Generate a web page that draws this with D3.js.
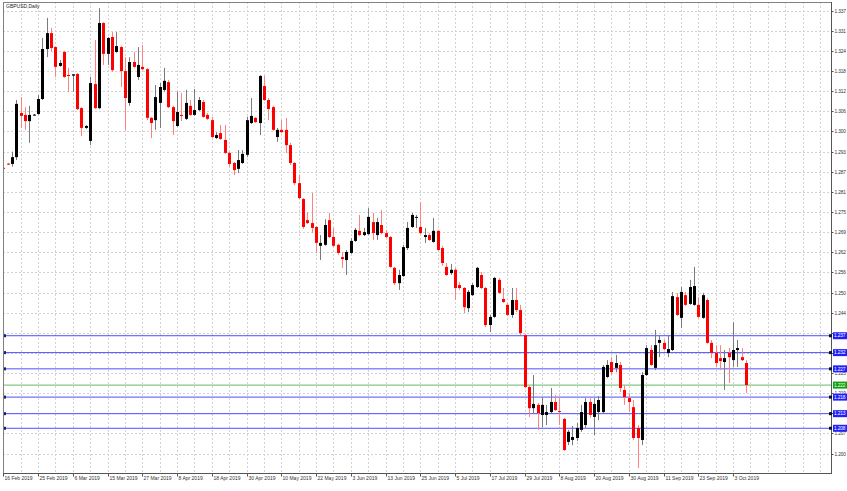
<!DOCTYPE html>
<html>
<head>
<meta charset="utf-8">
<script src="https://cdn.jsdelivr.net/npm/d3@7/dist/d3.min.js"></script>
<style>
  body { margin: 0; background: #fff; }
  svg { display: block; }
</style>
</head>
<body>
<script>
const chartTitle = 'GBPUSD,Daily'

// daily bars, oldest first (prices)
const opens = [
  1.2889, 1.2902, 1.2901, 1.2922, 1.3058, 1.3052, 1.3033, 1.3050, 1.3055, 1.3101,
  1.3255, 1.3304, 1.3261, 1.3203, 1.3246, 1.3175, 1.3173, 1.3178, 1.3073, 1.3012,
  1.2972, 1.3147, 1.3073, 1.3335, 1.3240, 1.3292, 1.3246, 1.3261, 1.3187, 1.3089,
  1.3215, 1.3169, 1.3200, 1.3193, 1.3043, 1.3036, 1.3089, 1.3129, 1.3153, 1.3076,
  1.3018, 1.3052, 1.3040, 1.3080, 1.3052, 1.3067, 1.3092, 1.3052, 1.3036, 1.2981,
  1.2996, 1.2975, 1.2935, 1.2904, 1.2886, 1.2904, 1.2929, 1.3027, 1.3043, 1.3027,
  1.3141, 1.3098, 1.3076, 1.2984, 1.3006, 1.3006, 1.2959, 1.2904, 1.2842, 1.2793,
  1.2728, 1.2719, 1.2707, 1.2649, 1.2652, 1.2728, 1.2676, 1.2652, 1.2614, 1.2605,
  1.2627, 1.2664, 1.2695, 1.2682, 1.2685, 1.2722, 1.2682, 1.2713, 1.2688, 1.2676,
  1.2581, 1.2534, 1.2556, 1.2642, 1.2707, 1.2735, 1.2707, 1.2676, 1.2682, 1.2661,
  1.2695, 1.2642, 1.2584, 1.2565, 1.2575, 1.2528, 1.2519, 1.2457, 1.2497, 1.2522,
  1.2559, 1.2519, 1.2405, 1.2430, 1.2544, 1.2485, 1.2467, 1.2436, 1.2482, 1.2451,
  1.2374, 1.2214, 1.2149, 1.2159, 1.2128, 1.2128, 1.2137, 1.2168, 1.2140, 1.2116,
  1.2045, 1.2051, 1.2057, 1.2082, 1.2097, 1.2168, 1.2122, 1.2137, 1.2137, 1.2245,
  1.2291, 1.2273, 1.2282, 1.2205, 1.2180, 1.2152, 1.2088, 1.2051, 1.2251, 1.2328,
  1.2273, 1.2350, 1.2350, 1.2319, 1.2328, 1.2491, 1.2427, 1.2497, 1.2470, 1.2467,
  1.2467, 1.2427, 1.2482, 1.2350, 1.2319, 1.2303, 1.2291, 1.2319, 1.2297, 1.2328,
  1.2306, 1.2288
]
const highs = [
  1.2892, 1.2904, 1.2939, 1.3098, 1.3107, 1.3076, 1.3080, 1.3055, 1.3113, 1.3289,
  1.3351, 1.3320, 1.3264, 1.3221, 1.3249, 1.3197, 1.3178, 1.3181, 1.3076, 1.3021,
  1.3169, 1.3283, 1.3381, 1.3338, 1.3292, 1.3307, 1.3307, 1.3264, 1.3230, 1.3230,
  1.3246, 1.3261, 1.3267, 1.3197, 1.3046, 1.3144, 1.3150, 1.3197, 1.3160, 1.3080,
  1.3123, 1.3120, 1.3129, 1.3098, 1.3132, 1.3107, 1.3098, 1.3058, 1.3046, 1.2999,
  1.3021, 1.3021, 1.2938, 1.2907, 1.2944, 1.2944, 1.3046, 1.3104, 1.3046, 1.3175,
  1.3172, 1.3104, 1.3080, 1.3012, 1.3036, 1.3043, 1.2966, 1.2907, 1.2867, 1.2796,
  1.2753, 1.2812, 1.2710, 1.2682, 1.2731, 1.2750, 1.2704, 1.2655, 1.2630, 1.2636,
  1.2673, 1.2704, 1.2744, 1.2704, 1.2765, 1.2750, 1.2735, 1.2759, 1.2698, 1.2679,
  1.2584, 1.2575, 1.2652, 1.2722, 1.2750, 1.2744, 1.2784, 1.2704, 1.2688, 1.2735,
  1.2698, 1.2649, 1.2596, 1.2593, 1.2581, 1.2537, 1.2522, 1.2513, 1.2534, 1.2584,
  1.2568, 1.2522, 1.2436, 1.2553, 1.2550, 1.2519, 1.2473, 1.2519, 1.2519, 1.2467,
  1.2377, 1.2217, 1.2251, 1.2165, 1.2183, 1.2159, 1.2211, 1.2189, 1.2183, 1.2119,
  1.2082, 1.2094, 1.2103, 1.2159, 1.2180, 1.2180, 1.2180, 1.2186, 1.2282, 1.2297,
  1.2306, 1.2313, 1.2291, 1.2220, 1.2196, 1.2174, 1.2097, 1.2260, 1.2343, 1.2343,
  1.2390, 1.2374, 1.2359, 1.2374, 1.2507, 1.2504, 1.2522, 1.2507, 1.2544, 1.2584,
  1.2491, 1.2504, 1.2488, 1.2359, 1.2343, 1.2343, 1.2328, 1.2334, 1.2414, 1.2359,
  1.2334, 1.2297
]
const lows = [
  1.2884, 1.2898, 1.2893, 1.2913, 1.3012, 1.3006, 1.2966, 1.3049, 1.3052, 1.3098,
  1.3230, 1.3246, 1.3169, 1.3200, 1.3166, 1.3123, 1.3123, 1.3067, 1.2987, 1.3009,
  1.2959, 1.3070, 1.3070, 1.3206, 1.3206, 1.3184, 1.3243, 1.3138, 1.3006, 1.3080,
  1.3197, 1.3160, 1.3190, 1.3036, 1.2981, 1.3006, 1.3012, 1.3123, 1.3073, 1.2990,
  1.3015, 1.3033, 1.3036, 1.3049, 1.3049, 1.3064, 1.3043, 1.3036, 1.2981, 1.2978,
  1.2975, 1.2932, 1.2892, 1.2867, 1.2873, 1.2901, 1.2922, 1.3024, 1.3027, 1.2990,
  1.3095, 1.3036, 1.3003, 1.2969, 1.2996, 1.2935, 1.2898, 1.2836, 1.2793, 1.2701,
  1.2716, 1.2688, 1.2627, 1.2605, 1.2649, 1.2673, 1.2645, 1.2621, 1.2581, 1.2559,
  1.2624, 1.2661, 1.2679, 1.2679, 1.2682, 1.2667, 1.2667, 1.2685, 1.2673, 1.2581,
  1.2528, 1.2513, 1.2553, 1.2636, 1.2704, 1.2704, 1.2685, 1.2658, 1.2664, 1.2658,
  1.2633, 1.2587, 1.2556, 1.2559, 1.2482, 1.2513, 1.2442, 1.2445, 1.2494, 1.2519,
  1.2516, 1.2399, 1.2383, 1.2427, 1.2501, 1.2473, 1.2433, 1.2427, 1.2445, 1.2374,
  1.2211, 1.2122, 1.2134, 1.2082, 1.2091, 1.2097, 1.2134, 1.2140, 1.2097, 1.2017,
  1.2035, 1.2035, 1.2048, 1.2076, 1.2088, 1.2119, 1.2066, 1.2112, 1.2134, 1.2242,
  1.2251, 1.2260, 1.2199, 1.2159, 1.2137, 1.2051, 1.1965, 1.2035, 1.2248, 1.2279,
  1.2266, 1.2306, 1.2328, 1.2306, 1.2325, 1.2433, 1.2396, 1.2464, 1.2467, 1.2464,
  1.2427, 1.2424, 1.2347, 1.2303, 1.2276, 1.2266, 1.2205, 1.2226, 1.2276, 1.2276,
  1.2294, 1.2196
]
const closes = [
  1.2886, 1.2899, 1.2922, 1.3086, 1.3049, 1.3033, 1.3052, 1.3053, 1.3101, 1.3255,
  1.3304, 1.3258, 1.3200, 1.3212, 1.3169, 1.3172, 1.3177, 1.3070, 1.3012, 1.3018,
  1.3150, 1.3073, 1.3335, 1.3240, 1.3289, 1.3190, 1.3264, 1.3187, 1.3104, 1.3215,
  1.3200, 1.3206, 1.3193, 1.3043, 1.3027, 1.3107, 1.3138, 1.3157, 1.3076, 1.3033,
  1.3061, 1.3049, 1.3089, 1.3052, 1.3067, 1.3098, 1.3046, 1.3040, 1.2984, 1.2990,
  1.2978, 1.2935, 1.2901, 1.2882, 1.2913, 1.2932, 1.3036, 1.3049, 1.3030, 1.3172,
  1.3098, 1.3070, 1.3006, 1.3006, 1.2999, 1.2959, 1.2904, 1.2842, 1.2796, 1.2707,
  1.2719, 1.2704, 1.2658, 1.2658, 1.2713, 1.2676, 1.2649, 1.2627, 1.2608, 1.2630,
  1.2664, 1.2698, 1.2682, 1.2691, 1.2738, 1.2688, 1.2722, 1.2688, 1.2676, 1.2584,
  1.2534, 1.2559, 1.2645, 1.2704, 1.2744, 1.2738, 1.2688, 1.2682, 1.2667, 1.2695,
  1.2636, 1.2596, 1.2559, 1.2575, 1.2519, 1.2519, 1.2460, 1.2507, 1.2528, 1.2581,
  1.2519, 1.2405, 1.2430, 1.2550, 1.2504, 1.2476, 1.2436, 1.2482, 1.2451, 1.2380,
  1.2214, 1.2149, 1.2162, 1.2134, 1.2159, 1.2137, 1.2168, 1.2143, 1.2137, 1.2020,
  1.2076, 1.2060, 1.2088, 1.2137, 1.2168, 1.2128, 1.2162, 1.2174, 1.2276, 1.2282,
  1.2260, 1.2288, 1.2211, 1.2183, 1.2168, 1.2057, 1.2057, 1.2251, 1.2334, 1.2282,
  1.2343, 1.2359, 1.2331, 1.2331, 1.2494, 1.2436, 1.2507, 1.2467, 1.2522, 1.2525,
  1.2430, 1.2497, 1.2350, 1.2319, 1.2288, 1.2294, 1.2303, 1.2306, 1.2328, 1.2334,
  1.2297, 1.2220
]

// one date label every 8 bars, starting on the first bar
const dateLabels = [
  '16 Feb 2019', '25 Feb 2019', '6 Mar 2019', '15 Mar 2019', '27 Mar 2019',
  '8 Apr 2019', '18 Apr 2019', '30 Apr 2019', '10 May 2019', '22 May 2019',
  '3 Jun 2019', '13 Jun 2019', '25 Jun 2019', '5 Jul 2019', '17 Jul 2019',
  '29 Jul 2019', '8 Aug 2019', '20 Aug 2019', '30 Aug 2019', '11 Sep 2019',
  '23 Sep 2019', '3 Oct 2019'
]
const barsPerLabel = 8

const priceTicks = [
  1.3373, 1.3311, 1.3249, 1.3187, 1.3125, 1.3063, 1.3001, 1.2939, 1.2877, 1.2815,
  1.2753, 1.2691, 1.2629, 1.2567, 1.2505, 1.2443, 1.2381, 1.2319, 1.2257, 1.2195,
  1.2133, 1.2071, 1.2009
]

// horizontal lines drawn on the chart
const levels = [1.2372, 1.2320, 1.2270, 1.2183, 1.2132, 1.2087]
const pivotLevel = 1.2220

const W = 847
const H = 491
const frame = { left: 3, top: 2, right: 832, bottom: 474 }
const font = "'Liberation Sans', Arial, sans-serif"

// the price column is too narrow for five decimals, show three
const fmt3 = v => (Math.floor(v * 1000 + 1e-6) / 1000).toFixed(3)

const bars = opens.map((o, i) => ({ i, o, h: highs[i], l: lows[i], c: closes[i] }))

const svg = d3.select(document.body).append('svg')
  .attr('width', W)
  .attr('height', H)
  .attr('font-family', font)

svg.append('rect')
  .attr('width', W)
  .attr('height', H)
  .attr('fill', '#fff')

const x = d3.scaleLinear().domain([0, bars.length - 1]).range([3.3, 746.1])
const y = d3.scaleLinear()
  .domain([priceTicks[0], priceTicks[priceTicks.length - 1]])
  .range([10.7, 453.6])

svg.append('clipPath').attr('id', 'plotclip')
  .append('rect')
  .attr('x', frame.left)
  .attr('y', frame.top)
  .attr('width', frame.right - frame.left)
  .attr('height', frame.bottom - frame.top)

const plot = svg.append('g').attr('clip-path', 'url(#plotclip)')

// grid: horizontal at price ticks, vertical every half label step
const grid = plot.append('g')
  .attr('stroke', '#d2d2d2')
  .attr('stroke-width', 1)
  .attr('stroke-dasharray', '2,2')

grid.selectAll('line.h')
  .data(priceTicks)
  .join('line')
  .attr('class', 'h')
  .attr('x1', frame.left)
  .attr('x2', frame.right)
  .attr('y1', d => Math.round(y(d)) + 0.5)
  .attr('y2', d => Math.round(y(d)) + 0.5)

const vIdx = d3.range(0, 200, barsPerLabel / 2).filter(i => x(i) < frame.right - 1)
grid.selectAll('line.v')
  .data(vIdx)
  .join('line')
  .attr('class', 'v')
  .attr('x1', d => Math.round(x(d)) + 0.5)
  .attr('x2', d => Math.round(x(d)) + 0.5)
  .attr('y1', frame.top)
  .attr('y2', frame.bottom)

// level lines
const lvl = plot.append('g')
lvl.selectAll('line')
  .data(levels)
  .join('line')
  .attr('x1', frame.left)
  .attr('x2', frame.right)
  .attr('y1', d => y(d))
  .attr('y2', d => y(d))
  .attr('stroke', '#4f4fff')
  .attr('stroke-width', 1)

lvl.append('line')
  .attr('x1', frame.left)
  .attr('x2', frame.right)
  .attr('y1', y(pivotLevel))
  .attr('y2', y(pivotLevel))
  .attr('stroke', '#86c886')
  .attr('stroke-width', 1.3)

// candles
const up = d => d.c >= d.o
const candles = plot.append('g').selectAll('g')
  .data(bars)
  .join('g')

candles.append('line')
  .attr('x1', d => Math.round(x(d.i)) + 0.5)
  .attr('x2', d => Math.round(x(d.i)) + 0.5)
  .attr('y1', d => y(d.h))
  .attr('y2', d => y(d.l))
  .attr('stroke', d => up(d) ? '#7a7a7a' : '#ff8080')
  .attr('stroke-width', 1)

candles.append('rect')
  .attr('x', d => Math.round(x(d.i)) - 1)
  .attr('width', 3)
  .attr('y', d => y(Math.max(d.o, d.c)))
  .attr('height', d => Math.max(1, Math.abs(y(d.o) - y(d.c))))
  .attr('fill', d => up(d) ? '#000' : '#ff0000')

// markers at the left end of each level line
lvl.selectAll('rect.lm')
  .data(levels)
  .join('rect')
  .attr('class', 'lm')
  .attr('x', frame.left)
  .attr('y', d => y(d) - 1.5)
  .attr('width', 3)
  .attr('height', 3)
  .attr('fill', '#1a1a80')

// frame
svg.append('rect')
  .attr('x', frame.left + 0.5)
  .attr('y', frame.top + 0.5)
  .attr('width', frame.right - frame.left - 1)
  .attr('height', frame.bottom - frame.top - 1)
  .attr('fill', 'none')
  .attr('stroke', '#808080')

// price axis; labels that sit right under a price tag are covered by it
const tagValues = levels.concat([pivotLevel])
const covered = v => tagValues.some(t => Math.abs(y(t) - y(v)) < 3.2)

const yAxis = d3.axisRight(y)
  .tickValues(priceTicks)
  .tickFormat(d => covered(d) ? '' : fmt3(d))
  .tickSize(2)
  .tickPadding(1)

const ya = svg.append('g')
  .attr('transform', `translate(${frame.right - 0.5},0)`)
  .call(yAxis)
ya.select('.domain').remove()
ya.selectAll('.tick line').attr('stroke', '#555')
ya.selectAll('.tick').attr('transform', d => `translate(0,${Math.round(y(d)) + 0.5})`)
ya.selectAll('text')
  .attr('font-family', font)
  .attr('font-size', 4.8)
  .attr('letter-spacing', -0.15)
  .attr('fill', '#333')

// date axis
const dateIdx = dateLabels.map((_, j) => j * barsPerLabel)
const xAxis = d3.axisBottom(x)
  .tickValues(dateIdx)
  .tickFormat((d, j) => dateLabels[j])
  .tickSize(3)
  .tickPadding(0)

const xa = svg.append('g')
  .attr('transform', `translate(0,${frame.bottom - 0.5})`)
  .call(xAxis)
xa.select('.domain').remove()
xa.selectAll('.tick').attr('transform', d => `translate(${Math.round(x(d)) + 0.5},0)`)
xa.selectAll('.tick line').attr('stroke', '#555')
xa.selectAll('text')
  .attr('font-family', font)
  .attr('font-size', 5)
  .attr('fill', '#333')
  .attr('text-anchor', 'start')
  .attr('x', 1)

// axis lines
svg.append('line')
  .attr('x1', frame.left).attr('x2', frame.right)
  .attr('y1', frame.bottom - 0.5).attr('y2', frame.bottom - 0.5)
  .attr('stroke', '#555')
svg.append('line')
  .attr('x1', frame.right - 0.5).attr('x2', frame.right - 0.5)
  .attr('y1', frame.top).attr('y2', frame.bottom)
  .attr('stroke', '#555')

// price tags on the right
const tags = svg.append('g')
const tagData = levels.map(v => ({ v, fill: '#2020ff' }))
  .concat([{ v: pivotLevel, fill: '#10a010' }])

tags.selectAll('rect.tag')
  .data(tagData)
  .join('rect')
  .attr('class', 'tag')
  .attr('x', frame.right + 1)
  .attr('y', d => y(d.v) - 3.5)
  .attr('width', 14)
  .attr('height', 7)
  .attr('fill', d => d.fill)

tags.selectAll('text')
  .data(tagData)
  .join('text')
  .attr('x', frame.right + 2)
  .attr('y', d => y(d.v))
  .attr('dy', '0.35em')
  .attr('font-size', 4.8)
  .attr('letter-spacing', -0.15)
  .attr('fill', '#fff')
  .text(d => fmt3(d.v))

tags.selectAll('rect.rm')
  .data(levels)
  .join('rect')
  .attr('class', 'rm')
  .attr('x', frame.right - 3)
  .attr('y', d => y(d) - 1.5)
  .attr('width', 3)
  .attr('height', 3)
  .attr('fill', '#111')

svg.append('text')
  .attr('x', 6)
  .attr('y', 8)
  .attr('font-size', 5)
  .attr('fill', '#222')
  .text(chartTitle)
</script>
</body>
</html>
